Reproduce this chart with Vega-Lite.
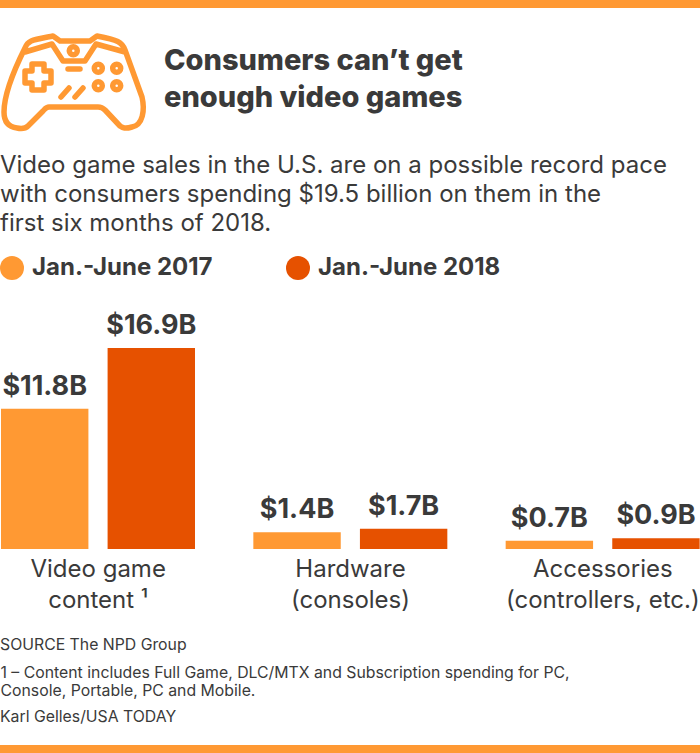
{
"$schema":"https://vega.github.io/schema/vega-lite/v6.json",
"width":700,"height":249,
"autosize":{"type":"none"},
"padding":{"top":300,"bottom":204,"left":0,"right":0},
"background":"white",
"config":{"font":"Inter","view":{"stroke":null}},
"title":{"text":["Consumers can’t get","enough video games"],"anchor":"start","frame":"group","dx":164,"offset":-113,"font":"Inter","fontSize":29,"fontWeight":800,"color":"#3a3a3a","lineHeight":37},
"data":{"values":[
{"group":"Video game|content ¹","period":"Jan.-June 2017","value":11.8,"label":"$11.8B"},
{"group":"Video game|content ¹","period":"Jan.-June 2018","value":16.9,"label":"$16.9B"},
{"group":"Hardware|(consoles)","period":"Jan.-June 2017","value":1.4,"label":"$1.4B"},
{"group":"Hardware|(consoles)","period":"Jan.-June 2018","value":1.7,"label":"$1.7B"},
{"group":"Accessories|(controllers, etc.)","period":"Jan.-June 2017","value":0.7,"label":"$0.7B"},
{"group":"Accessories|(controllers, etc.)","period":"Jan.-June 2018","value":0.9,"label":"$0.9B"}
]},
"encoding":{
"x":{"field":"group","type":"nominal","sort":null,"scale":{"range":[-28,729],"paddingInner":0,"paddingOuter":0},
"axis":{"domain":false,"ticks":false,"labelAngle":0,"labelFont":"Inter","labelFontSize":24,"labelColor":"#3a3a3a","labelPadding":8,"labelLineHeight":31,"labelLimit":300,"labelBaseline":"top","labelExpr":"split(datum.label,'|')",
"title":["1 – Content includes Full Game, DLC/MTX and Subscription spending for PC,","Console, Portable, PC and Mobile."],
"titleFont":"Inter","titleFontSize":15.8,"titleFontWeight":"normal","titleColor":"#3a3a3a","titleLineHeight":18,"titleAnchor":"start","titleAlign":"left","titleX":0,"titleY":128,"titleBaseline":"alphabetic"}},
"xOffset":{"field":"period","type":"nominal","scale":{"range":[29,223],"paddingInner":0.18,"paddingOuter":0}},
"y":{"field":"value","type":"quantitative","scale":{"domain":[0,20.94],"nice":false},"axis":null}
},
"layer":[
{"mark":{"type":"bar"},"encoding":{"color":{"field":"period","type":"nominal","scale":{"domain":["Jan.-June 2017","Jan.-June 2018"],"range":["#FF9933","#E65100"]},
"legend":{"orient":"none","legendX":0,"legendY":-146,"direction":"horizontal","columns":2,"title":["Video game sales in the U.S. are on a possible record pace","with consumers spending $19.5 billion on them in the","first six months of 2018."],"titleFont":"Inter","titleFontSize":24,"titleFontWeight":"normal","titleColor":"#3a3a3a","titleLineHeight":29,"titleLimit":700,"titlePadding":20,"titleOrient":"top","titleAnchor":"start","symbolType":"circle","symbolSize":576,"symbolStrokeWidth":0,"labelFont":"Inter","labelFontSize":24,"labelFontWeight":700,"labelColor":"#3a3a3a","labelOffset":8,"columnPadding":73,"labelLimit":300}}}},
{"mark":{"type":"text","dy":-14,"baseline":"alphabetic","font":"Inter","fontSize":27,"fontWeight":700,"color":"#3a3a3a"},"encoding":{"text":{"field":"label"},"x":{"field":"group","type":"nominal","sort":null},"color":{"value":"#3a3a3a"}}},
{"data":{"values":[{"note":"SOURCE The NPD Group"}]},"mark":{"type":"text","align":"left","baseline":"alphabetic","font":"Inter","fontSize":15.8,"color":"#3a3a3a"},"encoding":{"text":{"field":"note"},"x":{"value":0},"y":{"value":350},"xOffset":null}},
{"data":{"values":[{"note":"Karl Gelles/USA TODAY"}]},"mark":{"type":"text","align":"left","baseline":"alphabetic","font":"Inter","fontSize":15.8,"color":"#3a3a3a"},"encoding":{"text":{"field":"note"},"x":{"value":0},"y":{"value":422},"xOffset":null}},
{"data":{"values":[{"edge":"top"}]},"mark":{"type":"rule","color":"#FF9933","strokeWidth":8},"encoding":{"x":{"value":0},"x2":{"value":700},"y":{"value":-296},"xOffset":null}},
{"data":{"values":[{"edge":"bottom"}]},"mark":{"type":"rule","color":"#FF9933","strokeWidth":8},"encoding":{"x":{"value":0},"x2":{"value":700},"y":{"value":449},"xOffset":null}},
{"data":{"values":[{"icon":"controller"}]},"mark":{"type":"point","filled":false,"size":4,"opacity":1,"strokeWidth":5.5,"strokeCap":"round","strokeJoin":"round","color":"#FF9933","shape":"M-71 32 C-71 12 -58 -16 -50 -32 C-47 -40 -43 -40 -22 -44 L-15 -39 L15 -39 L22 -44 C43 -40 47 -38 50 -30 L67 17 C70 30 68 45 57 47 C50 49 48 48 45 46 L30 30 C28 28 26 27 23 27 L-26 27 C-29 27 -30 29 -32 31 L-47 46 C-50 49 -53 49 -58 48 C-66 47 -71 42 -71 32 Z M-50 -28 L-23 -36 L-12 -19 L10 -19 L21 -36 L50 -28 M-5.7 -29.3 a4 4 0 1 0 8 0 a4 4 0 1 0 -8 0 M-43 -16 L-31 -16 L-31 -9 L-24 -9 L-24 3 L-31 3 L-31 10 L-43 10 L-43 3 L-50 3 L-50 -9 L-43 -9 Z M-7 -11 L5 -11 M-14 17 L-6 8 M0 17 L8 8 M19.3 -11.7 a4 4 0 1 0 8 0 a4 4 0 1 0 -8 0 M37.7 -11.7 a4 4 0 1 0 8 0 a4 4 0 1 0 -8 0 M19.3 5.7 a4 4 0 1 0 8 0 a4 4 0 1 0 -8 0 M37.7 5.7 a4 4 0 1 0 8 0 a4 4 0 1 0 -8 0"},"encoding":{"x":{"value":75},"y":{"value":-220},"xOffset":null}}
]
}
